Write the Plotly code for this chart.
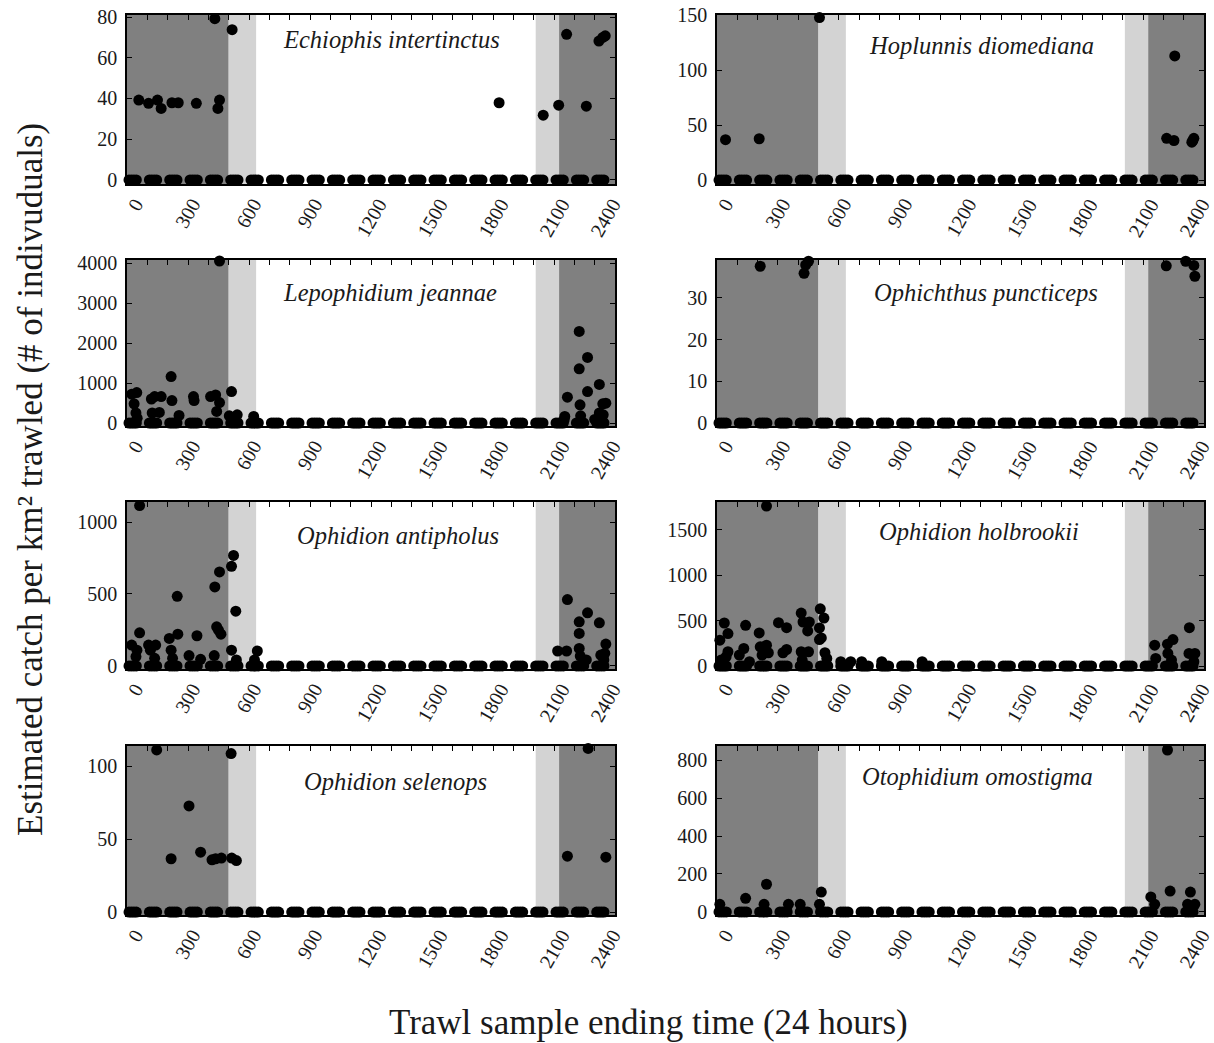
import plotly.graph_objects as go

# ---------------- data ----------------
species = ["Echiophis intertinctus", "Hoplunnis diomediana",
           "Lepophidium jeannae", "Ophichthus puncticeps",
           "Ophidion antipholus", "Ophidion holbrookii",
           "Ophidion selenops", "Otophidium omostigma"]

# trawl ending times (hhmm) with zero catch (shared by all species)
zero_times = [10, 22, 34, 46, 110, 122, 134, 146, 210, 222, 234, 246,
              310, 322, 334, 346, 410, 422, 434, 446, 510, 522, 534, 546,
              610, 622, 634, 646, 710, 722, 734, 746, 810, 822, 834, 846,
              910, 922, 934, 946, 1010, 1022, 1034, 1046, 1110, 1122, 1134, 1146,
              1210, 1222, 1234, 1246, 1310, 1322, 1334, 1346, 1410, 1422, 1434, 1446,
              1510, 1522, 1534, 1546, 1610, 1622, 1634, 1646, 1710, 1722, 1734, 1746,
              1810, 1822, 1834, 1846, 1910, 1922, 1934, 1946, 2010, 2022, 2034, 2046,
              2110, 2122, 2134, 2146, 2210, 2222, 2234, 2246, 2310, 2322, 2334, 2346]

echiophis_t = [58, 106, 150, 168, 221, 252, 341, 432, 447, 455, 517,
               1830, 2047, 2123, 2162, 2259, 2321, 2340, 2352]
echiophis_v = [39.2, 37.6, 39.2, 35.1, 37.9, 37.9, 37.6, 79.2, 35.1, 39.2, 73.8,
               37.9, 31.8, 36.7, 71.5, 36.2, 68.2, 70.0, 70.8]

hoplunnis_t = [42, 208, 505, 2216, 2252, 2256, 2340, 2345, 2350]
hoplunnis_v = [36.8, 37.6, 148.0, 38.0, 36.0, 113.0, 34.5, 36.0, 38.0]

lepophidium_t = [23, 48, 35, 44, 50, 120, 136, 168, 124, 159, 217, 221, 256,
                 327, 330, 411, 436, 455, 441, 455, 514, 503, 542, 623,
                 2166, 2153, 2224, 2224, 2265, 2228, 2265, 2231, 2323, 2340,
                 2355, 2323, 2342, 2150, 2300]
lepophidium_v = [720, 760, 480, 250, 120, 600, 660, 660, 250, 265, 1160, 560, 190,
                 660, 560, 660, 700, 510, 290, 4050, 785, 180, 205, 165,
                 645, 165, 2290, 1355, 1640, 455, 785, 180, 965, 480,
                 495, 250, 205, 80, 90]

ophichthus_t = [213, 429, 437, 451, 2214, 2310, 2350, 2355]
ophichthus_v = [37.6, 35.9, 37.9, 38.8, 37.7, 38.8, 37.8, 35.2]

antipholus_t = [62, 23, 49, 44, 62, 106, 115, 141, 136, 208, 217, 224, 247, 250,
                305, 344, 362, 429, 432, 441, 450, 462, 455, 514, 524, 535, 514,
                538, 641, 627, 2118, 2162, 2166, 2224, 2224, 2224, 2229, 2265,
                2259, 2323, 2330, 2350, 2355, 2345]
antipholus_v = [1114, 145, 110, 65, 230, 145, 110, 145, 53, 191, 110, 53, 484, 221,
                72, 210, 46, 72, 549, 272, 249, 221, 653, 692, 768, 381, 110,
                42, 104, 42, 104, 104, 461, 307, 226, 122, 69, 369,
                42, 300, 76, 88, 152, 42]

holbrookii_t = [244, 14, 36, 54, 54, 45, 20, 141, 132, 110, 160, 208, 213, 222,
                244, 253, 303, 343, 343, 325, 415, 424, 455, 447, 415, 451, 420,
                509, 505, 514, 505, 527, 532, 541, 610, 659, 713, 812, 1011,
                2157, 2162, 2220, 2222, 2247, 2240, 2328, 2326, 2355, 2350]
holbrookii_v = [1763, 285, 474, 358, 157, 102, 66, 449, 193, 120, 47, 365, 212, 120,
                230, 146, 478, 423, 182, 146, 584, 485, 485, 387, 157, 157, 66,
                631, 420, 310, 292, 529, 146, 84, 47, 47, 47, 47, 47,
                230, 84, 241, 139, 292, 66, 423, 139, 139, 47]

selenops_t = [146, 217, 305, 362, 418, 436, 464, 512, 515, 538, 2166, 2268, 2355]
selenops_v = [111, 36.5, 72.7, 41, 35.8, 36.5, 37, 108.5, 37, 35.3, 38.3, 112, 37.6]

otophidium_t = [14, 141, 244, 232, 352, 410, 505, 514, 2138, 2157, 2220, 2233,
                2333, 2319, 2355]
otophidium_v = [40, 72, 146, 40, 40, 40, 40, 105, 79, 40, 853, 110,
                105, 40, 40]

series_t = [echiophis_t, hoplunnis_t, lepophidium_t, ophichthus_t,
            antipholus_t, holbrookii_t, selenops_t, otophidium_t]
series_v = [echiophis_v, hoplunnis_v, lepophidium_v, ophichthus_v,
            antipholus_v, holbrookii_v, selenops_v, otophidium_v]

y_tick_values = [[0, 20, 40, 60, 80], [0, 50, 100, 150],
                 [0, 1000, 2000, 3000, 4000], [0, 10, 20, 30],
                 [0, 500, 1000], [0, 500, 1000, 1500],
                 [0, 50, 100], [0, 200, 400, 600, 800]]
y_ranges = [[-2, 81], [-3.6, 150.3], [-75, 4075], [-0.72, 39.1],
            [-21, 1139], [-33, 1808], [-2, 113.7], [-16, 874]]

x_tick_values = list(range(0, 2401, 100))
x_label_values = [0, 300, 600, 900, 1200, 1500, 1800, 2100, 2400]

# light periods (hhmm): night until 500, twilight to 635, twilight from 2010, night from 2125
night_end, dawn_end, dusk_start, night_start = 500, 635, 2010, 2125

# ---------------- figure ----------------
W, H = 1214, 1043
col_px = [(127, 615), (717, 1204)]
row_px = [(15, 184), (260, 426), (502, 669), (746, 915)]
title_dx = [0.541, 0.544, 0.539, 0.553, 0.555, 0.537, 0.551, 0.535]
title_dy = [25, 30, 32, 32, 33, 29, 35, 30]
label_xshift = {0: 8, 2400: -10}
FONT = "Liberation Serif"
DARK = "#808080"
LIGHT = "#d3d3d3"
TXT = "#1a1a1a"


def px_x(p):
    return p / W


def px_y(p):
    return 1 - p / H


fig = go.Figure()
shapes = []
annotations = []
layout = {}

for i in range(8):
    r, c = divmod(i, 2)
    n = i + 1
    sfx = "" if n == 1 else str(n)
    xa, ya = "x" + sfx, "y" + sfx
    xd = [px_x(col_px[c][0]), px_x(col_px[c][1])]
    yd = [px_y(row_px[r][1]), px_y(row_px[r][0])]

    fig.add_trace(go.Scatter(x=zero_times, y=[0] * len(zero_times), mode="markers",
                             marker=dict(color="black", size=11), cliponaxis=False,
                             xaxis=xa, yaxis=ya, showlegend=False, hoverinfo="skip"))
    fig.add_trace(go.Scatter(x=series_t[i], y=series_v[i], mode="markers",
                             marker=dict(color="black", size=11), cliponaxis=False,
                             xaxis=xa, yaxis=ya, showlegend=False))

    layout["xaxis" + sfx] = dict(
        domain=xd, anchor=ya, range=[0, 2400], tickmode="array", automargin=False,
        tickvals=x_tick_values, showticklabels=False,
        ticks="inside", ticklen=5, tickwidth=1.3, tickcolor="black",
        showline=True, linecolor="black", linewidth=1.5, mirror="ticks",
        showgrid=False, zeroline=False)
    layout["yaxis" + sfx] = dict(
        domain=yd, anchor=xa, range=y_ranges[i], tickmode="array", automargin=False,
        tickvals=y_tick_values[i], ticks="inside", ticklen=5, tickwidth=1.3,
        tickcolor="black", showline=True, linecolor="black", linewidth=1.5,
        mirror="ticks", showgrid=False, zeroline=False, ticklabelstandoff=4,
        ticklabeloverflow="allow",
        tickfont=dict(family=FONT, size=20, color=TXT))

    # rotated x tick labels, centred under their ticks
    for v in x_label_values:
        annotations.append(dict(text=str(v), xref=xa, yref=ya + " domain",
                                x=v, y=0, xanchor="center", yanchor="top",
                                yshift=-8, xshift=label_xshift.get(v, 0),
                                textangle=-60, showarrow=False,
                                font=dict(family=FONT, size=20, color=TXT)))

    for x0, x1, col in [(0, night_end, DARK), (night_end, dawn_end, LIGHT),
                        (dusk_start, night_start, LIGHT), (night_start, 2400, DARK)]:
        shapes.append(dict(type="rect", xref=xa, yref=ya + " domain",
                           x0=x0, x1=x1, y0=0, y1=1, fillcolor=col,
                           line=dict(width=0), layer="below"))

    ph = row_px[r][1] - row_px[r][0]
    annotations.append(dict(text=species[i], xref=xa + " domain", yref=ya + " domain",
                            x=title_dx[i], y=1 - title_dy[i] / ph,
                            xanchor="center", yanchor="middle", showarrow=False,
                            font=dict(family=FONT, size=24.5, color=TXT,
                                      style="italic")))

annotations.append(dict(text="Estimated catch per km² trawled (# of indivuduals)",
                        xref="paper", yref="paper", x=px_x(30), y=px_y(480),
                        textangle=-90, showarrow=False, xanchor="center",
                        yanchor="middle",
                        font=dict(family=FONT, size=35, color=TXT)))
annotations.append(dict(text="Trawl sample ending time (24 hours)",
                        xref="paper", yref="paper", x=px_x(648), y=px_y(1022),
                        showarrow=False, xanchor="center", yanchor="middle",
                        font=dict(family=FONT, size=35, color=TXT)))

fig.update_layout(width=W, height=H, margin=dict(l=0, r=0, t=0, b=0, autoexpand=False),
                  paper_bgcolor="white", plot_bgcolor="white", hovermode=False,
                  shapes=shapes, annotations=annotations, **layout)

fig.write_html("out.html", config={"displayModeBar": False},
               post_script="document.body.style.margin='0';"
                           "document.body.style.overflow='hidden';")
